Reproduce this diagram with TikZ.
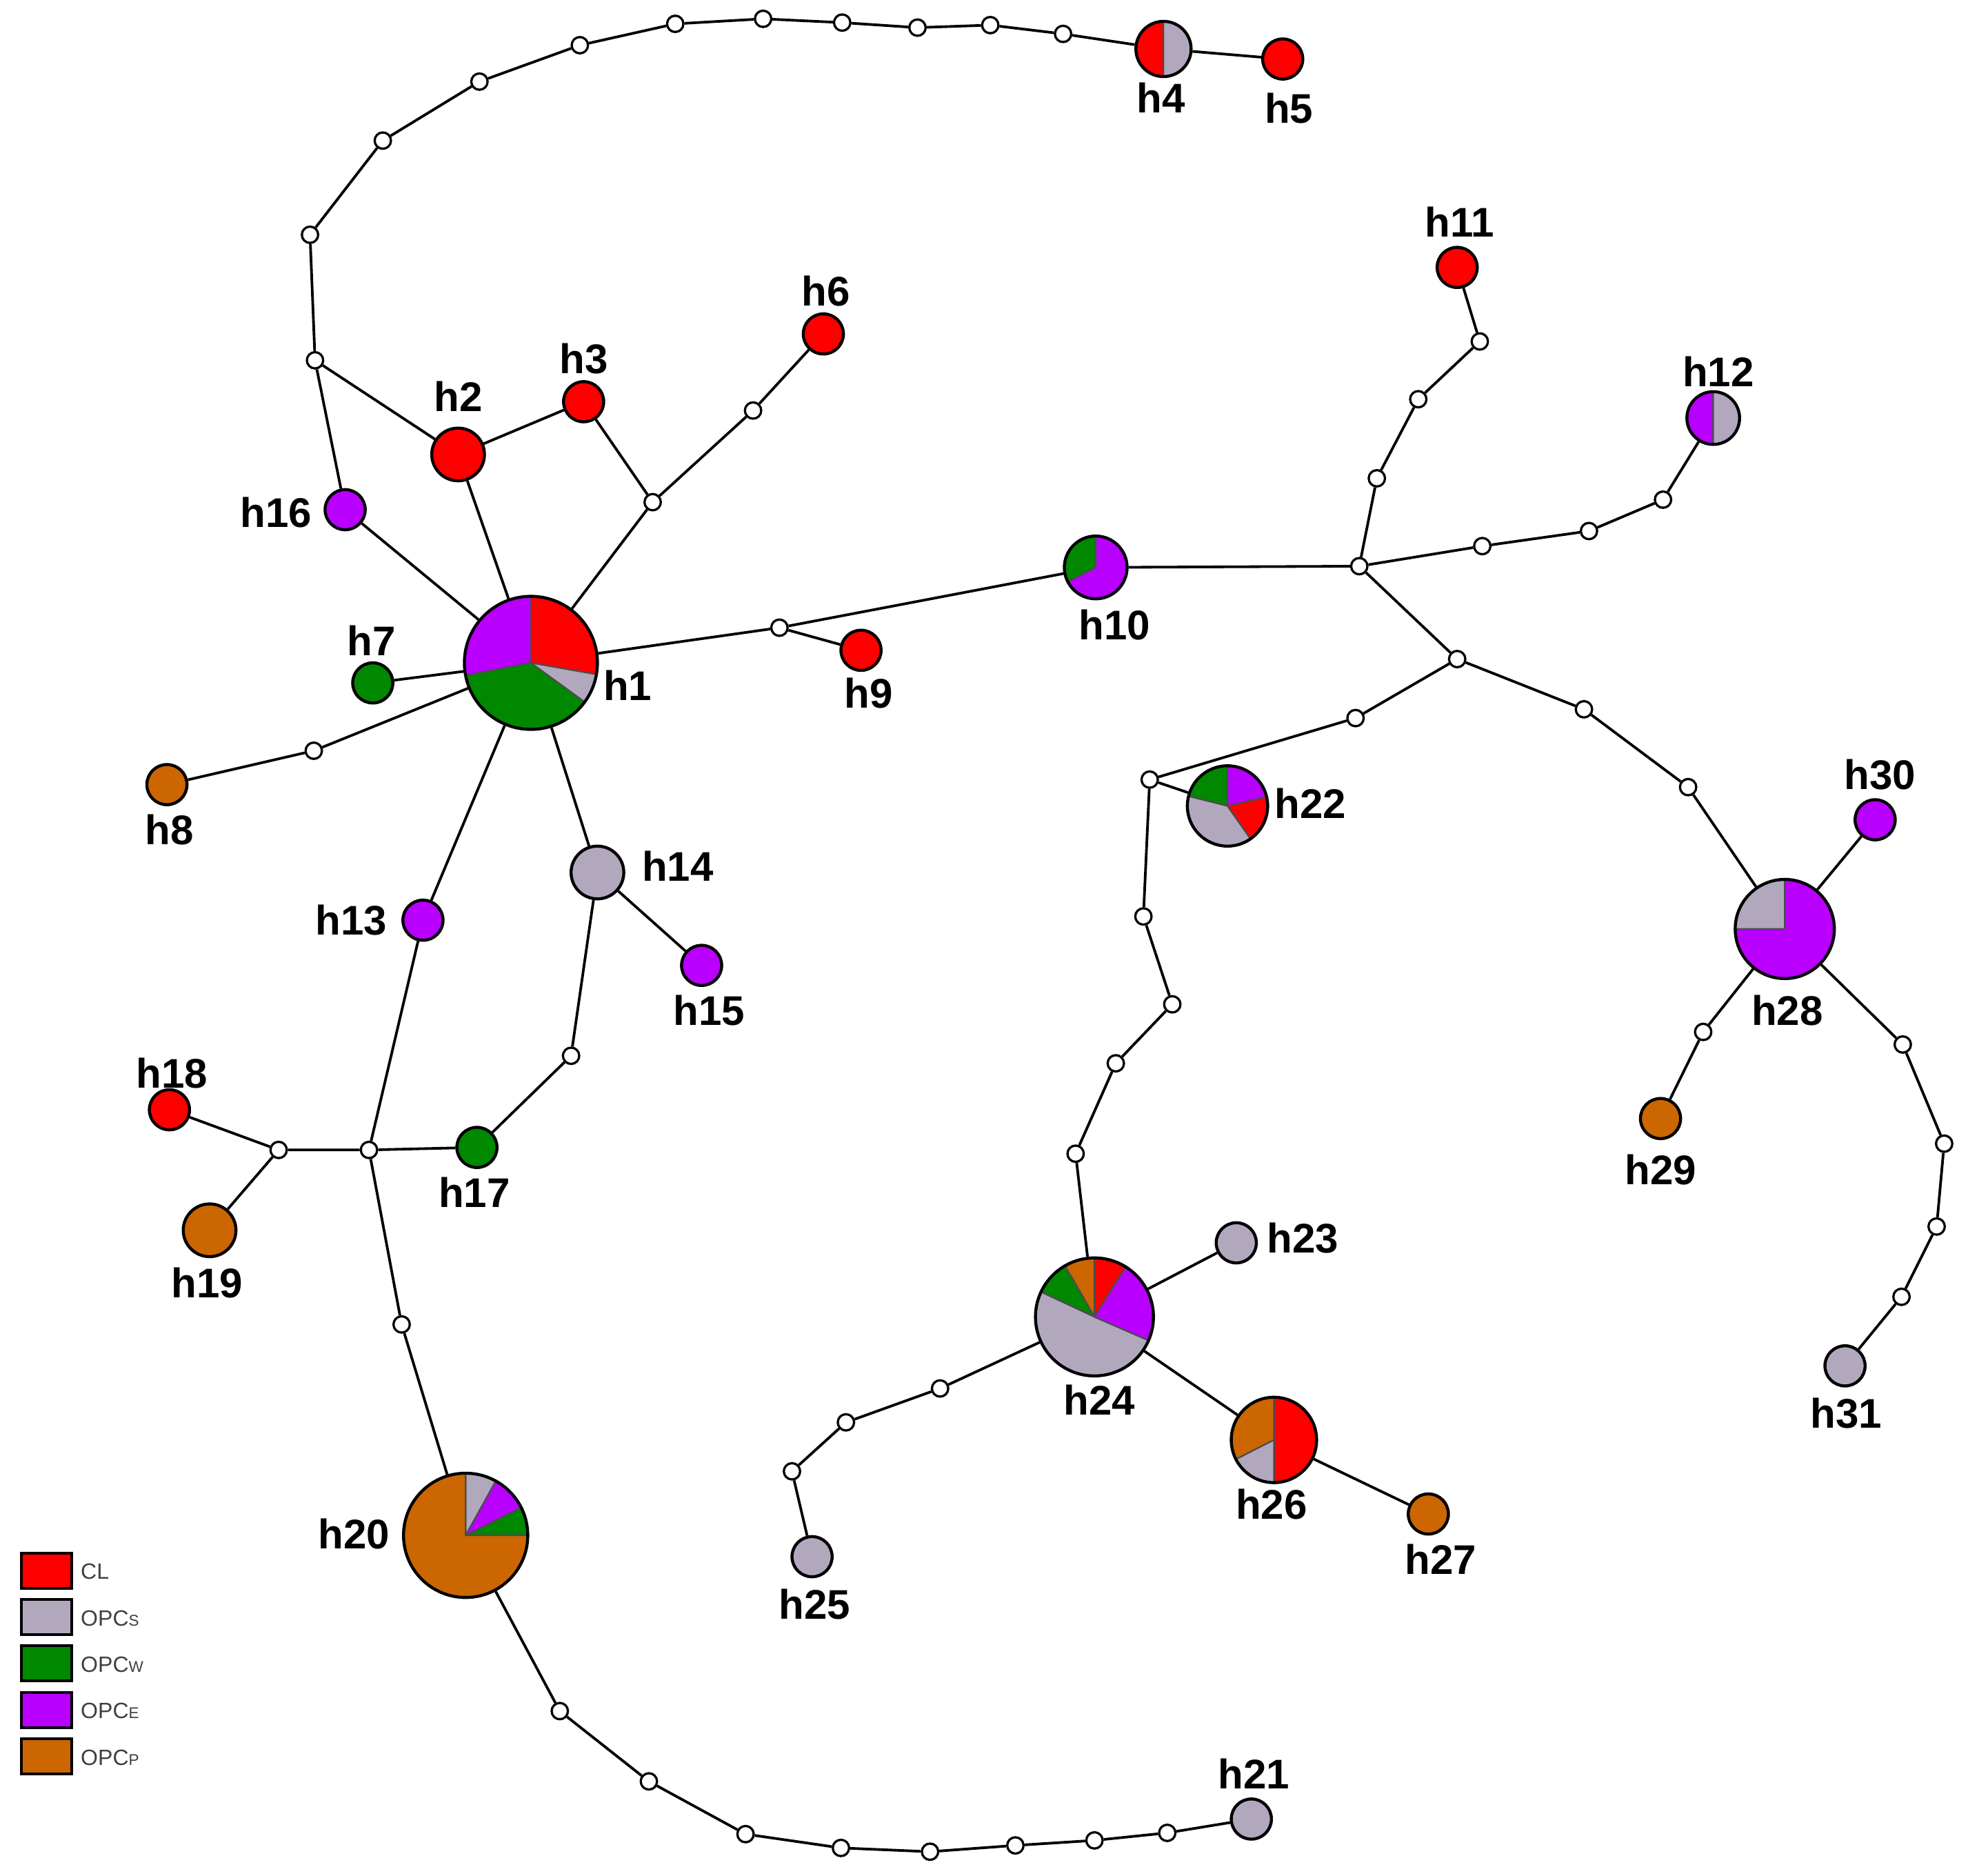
\documentclass[tikz,border=0pt]{standalone}
\usepackage{fontspec}
\setmainfont{Liberation Sans}
\usepackage{tikz}
\usepackage{xcolor}

\definecolor{colCL}{RGB}{255,0,0}
\definecolor{colS}{RGB}{178,168,190}
\definecolor{colW}{RGB}{0,136,0}
\definecolor{colE}{RGB}{185,0,255}
\definecolor{colP}{RGB}{204,102,0}

\tikzset{
  hap/.style={circle, draw=black, line width=1.2pt, inner sep=0pt, minimum size=16pt},
  big/.style={minimum size=21pt},
  pie/.style={hap, path picture={
      \foreach \angA/\angB/\colr in {#1}
        \filldraw[fill=\colr, draw=black!70, line width=0.6pt] (path picture bounding box.center) -- ++(\angA:40pt) arc[start angle=\angA, end angle=\angB, radius=40pt] -- cycle;
    }},
  mv/.style={circle, draw=black, fill=white, line width=0.9pt, inner sep=0pt, minimum size=6.5pt},
  edge/.style={line width=1.05pt},
  lab/.style={font=\fontsize{16.5}{19}\selectfont\bfseries, inner sep=0pt},
  legbox/.style={draw=black, line width=1.1pt, minimum width=20pt, minimum height=14pt, inner sep=0pt},
  legtext/.style={font=\fontsize{8.8}{10}\selectfont, text=black!75, anchor=west, inner sep=0pt}
}

\begin{document}
\begin{tikzpicture}[x=0.5pt,y=-0.5pt]
\useasboundingbox (0,0) rectangle (1568,1494);

%Haplotypes
\node[pie={-10/90/colCL, 90/191/colE, 191/324/colW, 324/350/colS}, minimum size=53pt] (h1) at (423,528) {};
\node[hap, fill=colCL, big] (h2) at (365,362) {};
\node[hap, fill=colCL] (h3) at (465,320) {};
\node[pie={90/270/colCL, 270/450/colS}, minimum size=22pt] (h4) at (927,39) {};
\node[hap, fill=colCL] (h5) at (1022,47) {};
\node[hap, fill=colCL] (h6) at (656,266) {};
\node[hap, fill=colW] (h7) at (297,544) {};
\node[hap, fill=colP] (h8) at (133,625) {};
\node[hap, fill=colCL] (h9) at (686,518) {};
\node[pie={90/207/colW, 207/450/colE}, minimum size=25pt] (h10) at (873,452) {};
\node[hap, fill=colCL] (h11) at (1161,213) {};
\node[pie={90/270/colE, 270/450/colS}, minimum size=21pt] (h12) at (1365,333) {};
\node[hap, fill=colE] (h13) at (337,733) {};
\node[hap, fill=colS, big] (h14) at (476,695) {};
\node[hap, fill=colE] (h15) at (559,769) {};
\node[hap, fill=colE] (h16) at (275,406) {};
\node[hap, fill=colW] (h17) at (380,914) {};
\node[hap, fill=colCL] (h18) at (135,884) {};
\node[hap, fill=colP, big] (h19) at (167,980) {};
\node[pie={0/26.5/colW, 26.5/61/colE, 61/90/colS, 90/360/colP}, minimum size=49.5pt] (h20) at (371,1223) {};
\node[hap, fill=colS] (h21) at (997,1449) {};
\node[pie={13/90/colE, 90/166/colW, 166/305/colS, 305/373/colCL}, minimum size=32pt] (h22) at (978,642) {};
\node[hap, fill=colS] (h23) at (985,990) {};
\node[pie={58/90/colCL, 90/120/colP, 120/155/colW, 155/336.5/colS, 336.5/418/colE}, minimum size=47pt] (h24) at (872,1049) {};
\node[hap, fill=colS] (h25) at (647,1240) {};
\node[pie={-90/90/colCL, 90/207/colP, 207/270/colS}, minimum size=34pt] (h26) at (1015,1147) {};
\node[hap, fill=colP] (h27) at (1138,1206) {};
\node[pie={90/180/colS, 180/450/colE}, minimum size=39.5pt] (h28) at (1422,740) {};
\node[hap, fill=colP] (h29) at (1323,891) {};
\node[hap, fill=colE] (h30) at (1494,653) {};
\node[hap, fill=colS] (h31) at (1470,1088) {};

%Median vectors
\node[mv] (ma) at (251,287) {};
\node[mv] (a1) at (247,187) {};
\node[mv] (a2) at (305,112) {};
\node[mv] (a3) at (382,65) {};
\node[mv] (a4) at (462,36) {};
\node[mv] (a5) at (538,19) {};
\node[mv] (a6) at (608,15) {};
\node[mv] (a7) at (671,18) {};
\node[mv] (a8) at (731,22) {};
\node[mv] (a9) at (789,20) {};
\node[mv] (a10) at (847,27) {};
\node[mv] (mb) at (520,400) {};
\node[mv] (mb2) at (600,327) {};
\node[mv] (mc) at (621,500) {};
\node[mv] (md) at (250,598) {};
\node[mv] (me) at (1083,451) {};
\node[mv] (e1) at (1097,381) {};
\node[mv] (e2) at (1130,318) {};
\node[mv] (e3) at (1179,272) {};
\node[mv] (f1) at (1181,435) {};
\node[mv] (f2) at (1266,423) {};
\node[mv] (f3) at (1325,398) {};
\node[mv] (mg) at (1161,525) {};
\node[mv] (g1) at (1080,572) {};
\node[mv] (mh) at (916,621) {};
\node[mv] (k1) at (1262,565) {};
\node[mv] (k2) at (1345,627) {};
\node[mv] (i1) at (911,730) {};
\node[mv] (i2) at (934,800) {};
\node[mv] (i3) at (889,847) {};
\node[mv] (i4) at (857,919) {};
\node[mv] (j1) at (749,1106) {};
\node[mv] (j2) at (674,1133) {};
\node[mv] (j3) at (631,1172) {};
\node[mv] (n1) at (1357,822) {};
\node[mv] (p1) at (1516,832) {};
\node[mv] (p2) at (1549,911) {};
\node[mv] (p3) at (1543,977) {};
\node[mv] (p4) at (1515,1033) {};
\node[mv] (mq) at (294,916) {};
\node[mv] (mr) at (222,916) {};
\node[mv] (q1) at (455,841) {};
\node[mv] (s1) at (320,1055) {};
\node[mv] (t1) at (446,1363) {};
\node[mv] (t2) at (517,1419) {};
\node[mv] (t3) at (594,1461) {};
\node[mv] (t4) at (670,1472) {};
\node[mv] (t5) at (741,1475) {};
\node[mv] (t6) at (809,1470) {};
\node[mv] (t7) at (872,1466) {};
\node[mv] (t8) at (930,1460) {};

%Links
\draw[edge] (h16) -- (ma) -- (a1) -- (a2) -- (a3) -- (a4) -- (a5) -- (a6) -- (a7) -- (a8) -- (a9) -- (a10) -- (h4) -- (h5);
\draw[edge] (ma) -- (h2) -- (h3) -- (mb) -- (mb2) -- (h6);
\draw[edge] (h16) -- (h1);
\draw[edge] (h2) -- (h1);
\draw[edge] (mb) -- (h1);
\draw[edge] (h1) -- (mc) -- (h10) -- (me) -- (mg) -- (k1) -- (k2) -- (h28);
\draw[edge] (mc) -- (h9);
\draw[edge] (me) -- (e1) -- (e2) -- (e3) -- (h11);
\draw[edge] (me) -- (f1) -- (f2) -- (f3) -- (h12);
\draw[edge] (mg) -- (g1) -- (mh) -- (i1) -- (i2) -- (i3) -- (i4) -- (h24);
\draw[edge] (mh) -- (h22);
\draw[edge] (h24) -- (h23);
\draw[edge] (h24) -- (h26) -- (h27);
\draw[edge] (h24) -- (j1) -- (j2) -- (j3) -- (h25);
\draw[edge] (h28) -- (h30);
\draw[edge] (h28) -- (n1) -- (h29);
\draw[edge] (h28) -- (p1) -- (p2) -- (p3) -- (p4) -- (h31);
\draw[edge] (h7) -- (h1);
\draw[edge] (h8) -- (md) -- (h1);
\draw[edge] (h1) -- (h13) -- (mq) -- (s1) -- (h20) -- (t1) -- (t2) -- (t3) -- (t4) -- (t5) -- (t6) -- (t7) -- (t8) -- (h21);
\draw[edge] (h1) -- (h14) -- (h15);
\draw[edge] (h14) -- (q1) -- (h17) -- (mq) -- (mr) -- (h18);
\draw[edge] (mr) -- (h19);

%Labels
\node[lab] (l1) at (500,546) {h1};
\node[lab] (l2) at (365,316) {h2};
\node[lab] (l3) at (465,286) {h3};
\node[lab] (l4) at (925,78) {h4};
\node[lab] (l5) at (1027,86) {h5};
\node[lab] (l6) at (658,232) {h6};
\node[lab] (l7) at (296,510) {h7};
\node[lab] (l8) at (135,661) {h8};
\node[lab] (l9) at (692,552) {h9};
\node[lab] (l10) at (888,498) {h10};
\node[lab] (l11) at (1163,177) {h11};
\node[lab] (l12) at (1369,296) {h12};
\node[lab] (l13) at (280,733) {h13};
\node[lab] (l14) at (540,690) {h14};
\node[lab] (l15) at (565,805) {h15};
\node[lab] (l16) at (220,408) {h16};
\node[lab] (l17) at (378,950) {h17};
\node[lab] (l18) at (137,855) {h18};
\node[lab] (l19) at (165,1022) {h19};
\node[lab] (l20) at (282,1222) {h20};
\node[lab] (l21) at (999,1413) {h21};
\node[lab] (l22) at (1044,640) {h22};
\node[lab] (l23) at (1038,986) {h23};
\node[lab] (l24) at (876,1115) {h24};
\node[lab] (l25) at (649,1278) {h25};
\node[lab] (l26) at (1013,1198) {h26};
\node[lab] (l27) at (1148,1242) {h27};
\node[lab] (l28) at (1424,805) {h28};
\node[lab] (l29) at (1323,932) {h29};
\node[lab] (l30) at (1498,617) {h30};
\node[lab] (l31) at (1471,1126) {h31};

%Legend
\node[legbox, fill=colCL] (leg1) at (37,1251) {};
\node[legbox, fill=colS] (leg2) at (37,1288) {};
\node[legbox, fill=colW] (leg3) at (37,1325) {};
\node[legbox, fill=colE] (leg4) at (37,1362) {};
\node[legbox, fill=colP] (leg5) at (37,1399) {};
\node[legtext] (legt1) at (64,1252) {CL};
\node[legtext] (legt2) at (64,1289) {OPC{\fontsize{6.2}{7}\selectfont S}};
\node[legtext] (legt3) at (64,1326) {OPC{\fontsize{6.2}{7}\selectfont W}};
\node[legtext] (legt4) at (64,1363) {OPC{\fontsize{6.2}{7}\selectfont E}};
\node[legtext] (legt5) at (64,1400) {OPC{\fontsize{6.2}{7}\selectfont P}};

\end{tikzpicture}
\end{document}
